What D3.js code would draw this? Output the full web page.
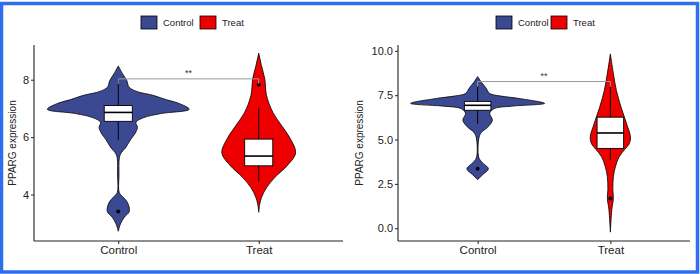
<!DOCTYPE html>
<html>
<head>
<meta charset="utf-8">
<script src="https://cdn.jsdelivr.net/npm/d3@7"></script>
<style>
  body { margin: 0; background: #fff; }
  svg { display: block; font-family: "Liberation Sans", Arial, sans-serif; }
  .axis path, .axis line { stroke: #222; }
  .axis text { fill: #222; }
</style>
</head>
<body>
<div id="chart"></div>
<script>
// groups and colours
const groups = ['Control', 'Treat'];
const groupColors = ['#3B4992', '#EE0000'];

// y ticks per panel
const leftTicks = [4, 6, 8];
const rightTicks = [0, 2.5, 5, 7.5, 10];
const leftDomain = [2.38, 9.21];
const rightDomain = [-0.72, 10.33];

// violin outlines [value, relative density]
const leftControlViolin = [[8.48,0],[8.21,0.06],[7.97,0.12],[7.75,0.15],[7.6,0.25],[7.45,0.5],[7.3,0.68],[7.18,0.85],[6.97,1],[6.82,0.6],[6.68,0.36],[6.52,0.25],[6.34,0.27],[6.14,0.24],[5.90,0.17],[5.62,0.10],[5.45,0.04],[5.28,0.015],[4.69,0.01],[4.07,0.014],[3.93,0.06],[3.72,0.13],[3.41,0.155],[3.21,0.085],[2.97,0.03],[2.72,0]];
const leftTreatViolin = [[8.93,0],[8.48,0.04],[8.03,0.085],[7.45,0.11],[6.86,0.2],[6.41,0.32],[5.97,0.44],[5.45,0.52],[5.03,0.41],[4.59,0.225],[4.24,0.11],[3.90,0.04],[3.66,0.014],[3.38,0]];
const rightControlViolin = [[8.55,0],[8.21,0.06],[7.93,0.12],[7.60,0.18],[7.45,0.35],[7.32,0.61],[7.04,1],[6.88,0.5],[6.75,0.25],[6.48,0.18],[6.09,0.22],[5.70,0.15],[5.42,0.06],[5.14,0.022],[4.02,0.015],[3.74,0.06],[3.35,0.16],[3.02,0.075],[2.74,0]];
const rightTreatViolin = [[9.83,0],[8.72,0.045],[7.77,0.09],[6.82,0.16],[5.92,0.24],[5.14,0.3],[4.75,0.28],[4.47,0.22],[4.02,0.13],[3.46,0.075],[2.91,0.045],[2.18,0.037],[1.68,0.045],[1.06,0.022],[-0.22,0]];

// box stats [lowerWhisker, q1, median, q3, upperWhisker]
const leftBoxes = [[5.90, 6.55, 6.86, 7.10, 8.03], [4.45, 5.0, 5.34, 5.93, 7.03]];
const leftOutliers = [[3.41], [7.83]];
const rightBoxes = [[5.90, 6.65, 6.93, 7.15, 8.0], [3.85, 4.5, 5.37, 6.26, 8.0]];
const rightOutliers = [[3.35], [1.68]];

// significance bracket height and label
const leftBracket = 8.03;
const rightBracket = 8.27;
const sigLabel = '**';

const W = 700, H = 274;

const svg = d3.select('#chart').append('svg')
    .attr('width', W)
    .attr('height', H);

svg.append('rect')
    .attr('width', W)
    .attr('height', H)
    .attr('fill', '#fff');

function drawPanel(cfg) {
  const g = svg.append('g');

  const x = d3.scalePoint()
      .domain(groups)
      .range([cfg.left, cfg.right])
      .padding(0.6);

  const y = d3.scaleLinear()
      .domain(cfg.domain)
      .range([cfg.bottom, cfg.top]);

  const step = x.step();
  const halfW = d3.scaleLinear().domain([0, 1]).range([0, 0.505 * step]);

  // violins
  groups.forEach((grp, i) => {
    const cx = x(grp);
    const area = d3.area()
        .y(d => y(d[0]))
        .x0(d => cx - halfW(d[1]))
        .x1(d => cx + halfW(d[1]))
        .curve(d3.curveCatmullRom.alpha(0.5));
    g.append('path')
        .datum(cfg.violins[i])
        .attr('d', area)
        .attr('fill', groupColors[i])
        .attr('stroke', '#000')
        .attr('stroke-width', 0.8);
  });

  // boxplots
  const boxW = 0.2 * step;
  groups.forEach((grp, i) => {
    const cx = x(grp);
    const b = cfg.boxes[i];
    g.append('line')
        .attr('x1', cx).attr('x2', cx)
        .attr('y1', y(b[0])).attr('y2', y(b[4]))
        .attr('stroke', '#000')
        .attr('stroke-width', 1);
    g.append('rect')
        .attr('x', cx - boxW / 2)
        .attr('y', y(b[3]))
        .attr('width', boxW)
        .attr('height', y(b[1]) - y(b[3]))
        .attr('fill', '#fff')
        .attr('stroke', '#000')
        .attr('stroke-width', 0.9);
    g.append('line')
        .attr('x1', cx - boxW / 2).attr('x2', cx + boxW / 2)
        .attr('y1', y(b[2])).attr('y2', y(b[2]))
        .attr('stroke', '#000')
        .attr('stroke-width', 1.6);
    g.selectAll(null)
        .data(cfg.outliers[i])
      .join('circle')
        .attr('cx', cx)
        .attr('cy', d => y(d))
        .attr('r', 2)
        .attr('fill', '#000');
  });

  // significance bracket
  const by = y(cfg.bracket);
  const x1 = x(groups[0]), x2 = x(groups[1]);
  g.append('path')
      .attr('d', `M${x1},${by + 5}V${by}H${x2}V${by + 5}`)
      .attr('fill', 'none')
      .attr('stroke', '#9a9a9a')
      .attr('stroke-width', 1);
  g.append('text')
      .attr('x', (x1 + x2) / 2)
      .attr('y', by - 3)
      .attr('text-anchor', 'middle')
      .attr('font-size', 9)
      .attr('fill', '#333')
      .text(sigLabel);

  // axes
  const yAxis = g.append('g')
      .attr('class', 'axis')
      .attr('transform', `translate(${cfg.left},0)`)
      .call(d3.axisLeft(y).tickValues(cfg.ticks).tickFormat(cfg.fmt).tickSize(3).tickPadding(2).tickSizeOuter(0));
  yAxis.select('.domain').attr('d', `M0,${cfg.top}V${cfg.bottom}`).attr('stroke-width', 1.1);
  yAxis.selectAll('text').attr('font-size', 11);

  const xAxis = g.append('g')
      .attr('class', 'axis')
      .attr('transform', `translate(0,${cfg.bottom})`)
      .call(d3.axisBottom(x).tickSize(3).tickPadding(2).tickSizeOuter(0));
  xAxis.select('.domain').attr('d', `M${cfg.left},0H${cfg.right}`).attr('stroke-width', 1.1);
  xAxis.selectAll('text').attr('font-size', 11.5);

  // y title
  g.append('text')
      .attr('transform', `translate(${cfg.titleX},${(cfg.top + cfg.bottom) / 2}) rotate(-90)`)
      .attr('text-anchor', 'middle')
      .attr('font-size', 10)
      .attr('fill', '#222')
      .text('PPARG expression');

  // legend
  const legend = g.append('g')
      .attr('transform', `translate(${cfg.legendX},16)`);
  const offsets = [0, cfg.legendGap];
  groups.forEach((grp, i) => {
    legend.append('rect')
        .attr('x', offsets[i])
        .attr('y', 0)
        .attr('width', 16)
        .attr('height', 13)
        .attr('fill', groupColors[i])
        .attr('stroke', '#000')
        .attr('stroke-width', 0.8);
    legend.append('text')
        .attr('x', offsets[i] + 22)
        .attr('y', 10)
        .attr('font-size', 9.5)
        .attr('fill', '#222')
        .text(grp);
  });
}

drawPanel({
  left: 34, right: 343, top: 45, bottom: 241,
  domain: leftDomain, ticks: leftTicks, fmt: d3.format('d'),
  violins: [leftControlViolin, leftTreatViolin],
  boxes: leftBoxes, outliers: leftOutliers,
  bracket: leftBracket, titleX: 16,
  legendX: 141, legendGap: 59
});

drawPanel({
  left: 398, right: 690, top: 45, bottom: 241,
  domain: rightDomain, ticks: rightTicks, fmt: d3.format('.1f'),
  violins: [rightControlViolin, rightTreatViolin],
  boxes: rightBoxes, outliers: rightOutliers,
  bracket: rightBracket, titleX: 363,
  legendX: 496, legendGap: 55
});

// outer blue frame
svg.append('rect')
    .attr('x', 1.5)
    .attr('y', 3.5)
    .attr('width', 696)
    .attr('height', 268.5)
    .attr('fill', 'none')
    .attr('stroke', '#2E6FF0')
    .attr('stroke-width', 3.5);
</script>
</body>
</html>
